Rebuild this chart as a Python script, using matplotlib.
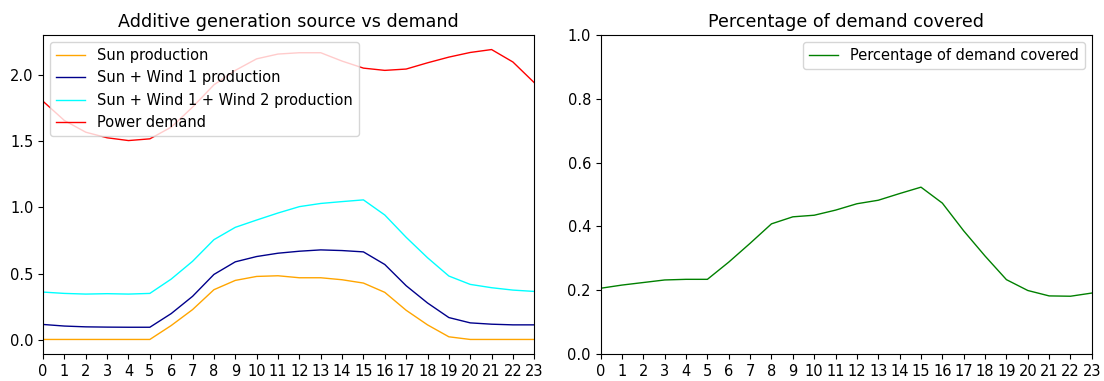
import numpy as np
import matplotlib
matplotlib.use("Agg")
import matplotlib.pyplot as plt

plt.rcParams['font.size'] = 10.5

# --- данные (часы суток) ---
hours = np.arange(24)

sun = [0.005, 0.005, 0.005, 0.005, 0.005, 0.005, 0.11, 0.23, 0.38, 0.45, 0.48, 0.485,
       0.47, 0.47, 0.455, 0.43, 0.36, 0.225, 0.115, 0.025, 0.005, 0.005, 0.005, 0.005]
sun_wind1 = [0.118, 0.106, 0.10, 0.098, 0.097, 0.097, 0.20, 0.33, 0.495, 0.59, 0.63, 0.655,
             0.67, 0.68, 0.675, 0.665, 0.57, 0.41, 0.28, 0.17, 0.13, 0.12, 0.115, 0.115]
sun_wind12 = [0.362, 0.352, 0.347, 0.35, 0.347, 0.352, 0.46, 0.594, 0.757, 0.85, 0.905, 0.958,
              1.006, 1.03, 1.044, 1.057, 0.943, 0.775, 0.621, 0.483, 0.42, 0.395, 0.377, 0.367]
demand = [1.80, 1.655, 1.567, 1.525, 1.504, 1.517, 1.605, 1.756, 1.924, 2.033, 2.12, 2.156,
          2.166, 2.166, 2.103, 2.05, 2.033, 2.043, 2.09, 2.133, 2.168, 2.19, 2.096, 1.94]
covered = [0.206, 0.216, 0.224, 0.232, 0.234, 0.234, 0.288, 0.347, 0.408, 0.430, 0.435, 0.451,
           0.471, 0.482, 0.503, 0.523, 0.473, 0.386, 0.307, 0.233, 0.199, 0.182, 0.181, 0.191]

fig, axes = plt.subplots(1, 2, figsize=(11.04, 3.81), dpi=100)
fig.subplots_adjust(left=0.039, right=0.989, bottom=0.071, top=0.908, wspace=0.135)

# --- левый график ---
ax = axes[0]
ax.plot(hours, sun, color='orange', lw=1, label='Sun production')
ax.plot(hours, sun_wind1, color='darkblue', lw=1, label='Sun + Wind 1 production')
ax.plot(hours, sun_wind12, color='cyan', lw=1, label='Sun + Wind 1 + Wind 2 production')
ax.plot(hours, demand, color='red', lw=1, label='Power demand')
ax.set_xticks(hours)
ax.set_xlim(0, 23)
ax.set_title("Additive generation source vs demand")
ax.legend(loc='upper left')

# --- правый график ---
ax = axes[1]
ax.plot(hours, covered, color='green', lw=1, label='Percentage of demand covered')
ax.set_xticks(hours)
ax.set_xlim(0, 23)
ax.set_ylim(0, 1)
ax.set_title("Percentage of demand covered")
ax.legend(loc='upper right')

fig.savefig("out.png", dpi=100)
